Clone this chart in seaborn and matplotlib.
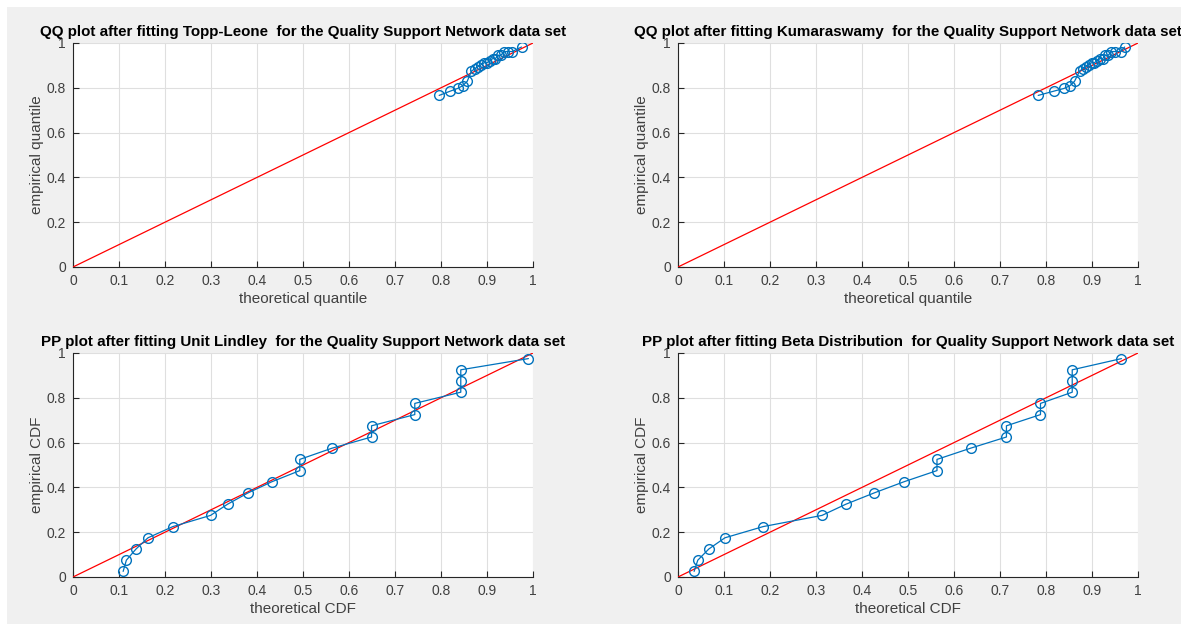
import numpy as np
import pandas as pd
import matplotlib
matplotlib.use("Agg")
import matplotlib.pyplot as plt
from matplotlib.patches import Rectangle
import seaborn as sns

# Sorted Quality Support Network observations (empirical quantiles)
emp_quantile = [0.766, 0.785, 0.797, 0.809, 0.829, 0.874, 0.886, 0.895, 0.904, 0.912,
                0.912, 0.920, 0.930, 0.930, 0.945, 0.945, 0.962, 0.962, 0.962, 0.982]
# Theoretical quantiles from the fitted models
tl_quantile = [0.796, 0.820, 0.836, 0.847, 0.857, 0.866, 0.874, 0.881, 0.888, 0.894,
               0.900, 0.906, 0.912, 0.918, 0.924, 0.930, 0.937, 0.945, 0.955, 0.975]
kw_quantile = [0.783, 0.817, 0.839, 0.852, 0.862, 0.873, 0.880, 0.887, 0.893, 0.899,
               0.905, 0.911, 0.917, 0.923, 0.929, 0.935, 0.942, 0.949, 0.962, 0.971]
# Empirical CDF at the sorted observations
emp_cdf = [0.025, 0.075, 0.125, 0.175, 0.225, 0.275, 0.325, 0.375, 0.425, 0.475,
           0.525, 0.575, 0.625, 0.675, 0.725, 0.775, 0.825, 0.875, 0.925, 0.975]
# Fitted CDF values
ul_cdf = [0.109, 0.116, 0.137, 0.163, 0.217, 0.299, 0.336, 0.380, 0.432, 0.493,
          0.493, 0.563, 0.649, 0.649, 0.743, 0.743, 0.843, 0.843, 0.843, 0.990]
beta_cdf = [0.035, 0.043, 0.067, 0.102, 0.185, 0.313, 0.365, 0.426, 0.491, 0.563,
            0.563, 0.636, 0.714, 0.714, 0.788, 0.788, 0.857, 0.857, 0.857, 0.964]

ref_line = [0.0, 1.0]
x_ticks = [0, 0.1, 0.2, 0.3, 0.4, 0.5, 0.6, 0.7, 0.8, 0.9, 1]
y_ticks = [0, 0.2, 0.4, 0.6, 0.8, 1]

panels = [
    ("QQ plot after fitting Topp-Leone  for the Quality Support Network data set",
     tl_quantile, emp_quantile, "theoretical quantile", "empirical quantile"),
    ("QQ plot after fitting Kumaraswamy  for the Quality Support Network data set",
     kw_quantile, emp_quantile, "theoretical quantile", "empirical quantile"),
    ("PP plot after fitting Unit Lindley  for the Quality Support Network data set",
     ul_cdf, emp_cdf, "theoretical CDF", "empirical CDF"),
    ("PP plot after fitting Beta Distribution  for Quality Support Network data set",
     beta_cdf, emp_cdf, "theoretical CDF", "empirical CDF"),
]

sns.set_theme(style="white")
plt.rcParams["font.family"] = ["Liberation Sans", "DejaVu Sans"]

W, H = 1181, 624
fig = plt.figure(figsize=(W / 100, H / 100), dpi=100)
fig.patch.set_facecolor("white")
fig.patches.append(Rectangle((7 / W, 0), 1 - 7 / W, 1 - 7 / H, transform=fig.transFigure,
                             facecolor="#f0f0f0", edgecolor="none", zorder=-10))

blue = "#0072BD"
axis_col = "#262626"
rects = [
    (73, 43), (678, 43),
    (73, 353), (678, 353),
]
aw, ah = 460, 224

for (title, xs, ys, xl, yl), (left, top) in zip(panels, rects):
    ax = fig.add_axes([left / W, 1 - (top + ah) / H, aw / W, ah / H])
    ax.set_facecolor("white")
    sns.lineplot(x=ref_line, y=ref_line, ax=ax, color="#ff0000", linewidth=0.9,
                 estimator=None, sort=False, zorder=3)
    df = pd.DataFrame({"x": xs, "y": ys})
    sns.lineplot(data=df, x="x", y="y", ax=ax, color=blue, linewidth=0.9,
                 estimator=None, sort=False, marker="o", markersize=7,
                 markerfacecolor="none", markeredgecolor=blue, markeredgewidth=1.0,
                 zorder=4)
    ax.set_xlim(0, 1)
    ax.set_ylim(0, 1)
    ax.set_xticks(x_ticks)
    ax.set_yticks(y_ticks)
    ax.set_xticklabels([f"{t:g}" for t in x_ticks])
    ax.set_yticklabels([f"{t:g}" for t in y_ticks])
    ax.grid(True, color="#dfdfdf", linewidth=0.8)
    ax.set_axisbelow(True)
    for s in ("top", "right"):
        ax.spines[s].set_visible(False)
    for s in ("left", "bottom"):
        ax.spines[s].set_color(axis_col)
        ax.spines[s].set_linewidth(0.8)
    ax.tick_params(direction="in", length=4, width=0.8, color=axis_col,
                   labelcolor="#404040", labelsize=10, pad=5,
                   bottom=True, left=True)
    ax.set_xlabel(xl, fontsize=11, color="#404040", labelpad=3)
    ax.set_ylabel(yl, fontsize=11, color="#404040", labelpad=2)
    ax.set_title(title, fontsize=10.9, fontweight="bold", color="black", pad=5)

fig.savefig("out.png", dpi=100, facecolor=fig.get_facecolor())
